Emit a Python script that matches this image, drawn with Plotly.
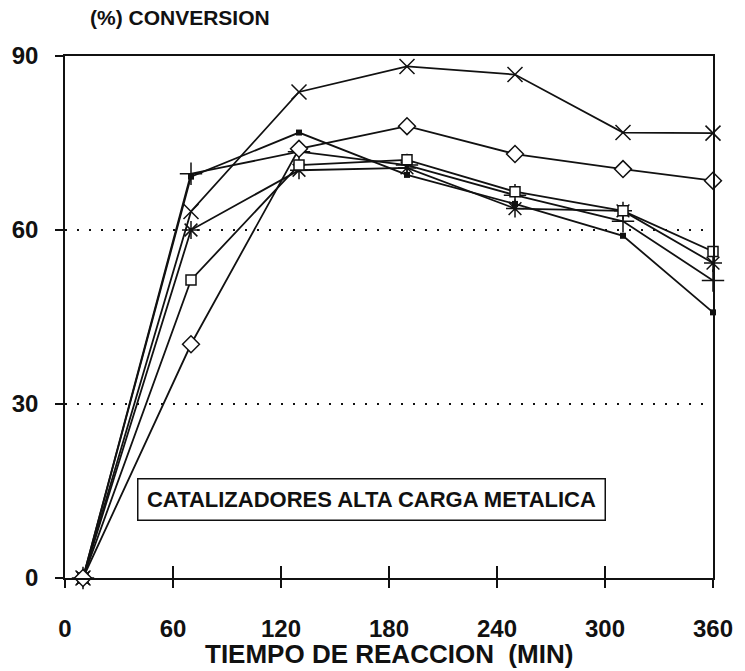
import plotly.graph_objects as go

# Reaction time (min) and conversion (%) for each high-metal-loading catalyst
tiempo = [10, 70, 130, 190, 250, 310, 360]

conv_x = [0, 63.2, 83.8, 88.2, 86.8, 76.8, 76.7]
conv_diamante = [0, 40.3, 74.0, 77.9, 73.1, 70.5, 68.5]
conv_cuadro = [0, 51.4, 71.2, 72.1, 66.6, 63.3, 56.3]
conv_asterisco = [0, 60.0, 70.3, 70.7, 63.7, 63.3, 54.3]
conv_cruz = [0, 69.7, 73.5, 71.2, 66.0, 61.5, 51.3]
conv_punto = [0, 69.2, 76.8, 69.5, 64.5, 59.0, 45.8]

x_ticks = [0, 60, 120, 180, 240, 300, 360]
y_ticks = [0, 30, 60, 90]

FONT = "Liberation Sans"
BLACK = "#111111"

series = [
    (conv_punto, dict(symbol="square", size=6, color=BLACK)),
    (conv_cruz, dict(symbol="cross-thin-open", size=16, line=dict(color=BLACK, width=1.5))),
    (conv_asterisco, dict(symbol="asterisk-open", size=15, line=dict(color=BLACK, width=1.5))),
    (conv_cuadro, dict(symbol="square", size=10, color="white", line=dict(color=BLACK, width=1.5))),
    (conv_x, dict(symbol="x-thin-open", size=15, line=dict(color=BLACK, width=1.5))),
    (conv_diamante, dict(symbol="diamond", size=13, color="white", line=dict(color=BLACK, width=1.5))),
]

fig = go.Figure()
for valores, marcador in series:
    fig.add_trace(go.Scatter(
        x=tiempo, y=valores, mode="lines+markers",
        line=dict(color=BLACK, width=1.8),
        marker=marcador, cliponaxis=False, showlegend=False,
    ))

# Overlay axis carrying the inward half of the crossing x ticks
fig.add_trace(go.Scatter(x=[None], y=[None], xaxis="x2", showlegend=False))

fig.update_layout(
    width=745, height=671,
    margin=dict(l=58, r=24, t=56, b=93),
    paper_bgcolor="white", plot_bgcolor="white",
    font=dict(family=FONT, color=BLACK),
    xaxis=dict(
        range=[0, 360], tickvals=x_ticks, ticktext=[str(v) for v in x_ticks],
        showgrid=False, zeroline=False,
        showline=True, linecolor=BLACK, linewidth=1.5, mirror=True,
        ticks="outside", ticklen=8, tickwidth=1.5, tickcolor=BLACK,
        tickfont=dict(family=FONT, size=24, color=BLACK, weight="bold"),
        ticklabelstandoff=20,
    ),
    xaxis2=dict(
        range=[0, 360], overlaying="x", side="bottom", tickvals=x_ticks,
        showticklabels=False, showgrid=False, zeroline=False, showline=False,
        ticks="inside", ticklen=12, tickwidth=1.5, tickcolor=BLACK,
    ),
    yaxis=dict(
        range=[0, 90], tickvals=y_ticks, ticktext=[str(v) for v in y_ticks],
        showgrid=True, gridcolor=BLACK, gridwidth=2, griddash="2px,10px",
        zeroline=False,
        showline=True, linecolor=BLACK, linewidth=1.5, mirror=True,
        ticks="outside", ticklen=8, tickwidth=1.5, tickcolor=BLACK,
        tickfont=dict(family=FONT, size=24, color=BLACK, weight="bold"),
        ticklabelstandoff=12,
    ),
    annotations=[
        dict(text="(%) CONVERSION", xref="paper", yref="paper",
             x=0.036, y=1.073, xanchor="left", yanchor="middle", showarrow=False,
             font=dict(family=FONT, size=21, color=BLACK, weight="bold")),
        dict(text="TIEMPO DE REACCION  (MIN)", xref="paper", yref="paper",
             x=0.5, y=-0.146, xanchor="center", yanchor="middle", showarrow=False,
             font=dict(family=FONT, size=26, color=BLACK, weight="bold")),
        dict(text="CATALIZADORES ALTA CARGA METALICA", xref="x", yref="y",
             x=170, y=13.6, xanchor="center", yanchor="middle", showarrow=False,
             width=462, height=36, borderpad=2,
             bordercolor=BLACK, borderwidth=1.5, bgcolor="white",
             font=dict(family=FONT, size=22, color=BLACK, weight="bold")),
    ],
)

fig.write_html("out.html")
